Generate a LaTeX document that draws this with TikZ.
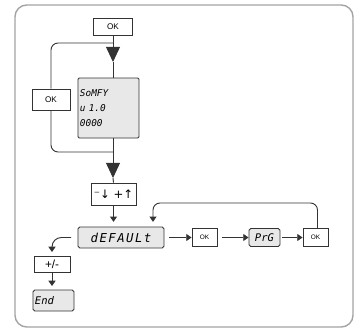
\documentclass[tikz,border=0pt]{standalone}
\usepackage{fontspec}
\setmainfont{Liberation Sans}
\newfontfamily\lcd{DejaVu Sans Mono}
\newfontfamily\symfont{DejaVu Sans}
\usepackage{xcolor}
\usetikzlibrary{arrows.meta}

\definecolor{linec}{HTML}{333333}
\definecolor{framec}{HTML}{A3A3A3}
\definecolor{lcdgray}{HTML}{E8E8E8}

\tikzset{
  okbox/.style={draw=linec, fill=white, inner sep=0pt, font=\fontsize{7}{8}\selectfont},
  lcdbox/.style={draw=linec, fill=lcdgray, inner sep=0pt, rounded corners=1.5pt, font=\lcd\itshape},
  bigtip/.style={-{Triangle[width=12pt,length=13pt]}}
}

\begin{document}
\begin{tikzpicture}[
    x=0.03cm, y=-0.03cm,
    line width=0.8pt, draw=linec,
    >={Triangle[width=6pt,length=4.5pt]}
]
\useasboundingbox (0,0) rectangle (358,328);

% --- RAHMEN ---
\draw[framec, line width=1.2pt, rounded corners=10pt] (15,5) rectangle (353,327);

% --- BOXEN ---
\node[okbox, minimum width=1.17cm, minimum height=0.51cm] (okA) at (113,26.5) {OK};
\node[okbox, minimum width=1.14cm, minimum height=0.63cm] (okB) at (51,99.5) {OK};
\node[lcdbox, rounded corners=1pt, minimum width=1.83cm, minimum height=1.8cm,
      text width=1.71cm, inner xsep=0.06cm, align=left,
      font=\lcd\itshape\fontsize{8}{12.8}\selectfont] (scr) at (108.5,108) {SoMFY\\u 1.0\\0000};
\node[okbox, minimum width=1.35cm, minimum height=0.66cm, font=\symfont\fontsize{10}{11}\selectfont] (keys) at (113.5,194) {⁻↓ +↑};
\node[lcdbox, minimum width=2.58cm, minimum height=0.63cm,
      font=\lcd\itshape\addfontfeatures{LetterSpace=12}\fontsize{10.5}{12}\selectfont] (dflt) at (121,237.5) {dEFAULt};
\node[okbox, minimum width=0.75cm, minimum height=0.54cm, font=\fontsize{5.5}{6}\selectfont] (okC) at (204.5,237.5) {OK};
\node[lcdbox, minimum width=0.93cm, minimum height=0.54cm, font=\lcd\itshape\fontsize{9}{10}\selectfont] (prg) at (264.5,237.5) {PrG};
\node[okbox, minimum width=0.75cm, minimum height=0.54cm, font=\fontsize{5.5}{6}\selectfont] (okD) at (315.5,237.5) {OK};
\node[okbox, minimum width=1.08cm, minimum height=0.48cm, font=\fontsize{10}{11}\selectfont] (pm) at (52,264) {+/-};
\node[lcdbox, minimum width=1.23cm, minimum height=0.63cm, text width=1.11cm, inner xsep=0.06cm,
      align=left, font=\lcd\itshape\fontsize{9}{10}\selectfont] (endb) at (53.5,300.5) {End};

% --- HAUPTLINIE ---
\coordinate (j1) at (113,43);
\coordinate (t1) at (113,62);
\coordinate (j2) at (113,152);
\coordinate (t2) at (113,178);
\draw[bigtip] (okA.south) -- (t1);
\draw (t1) -- (t1 |- scr.north);
\draw[bigtip] (t1 |- scr.south) -- (t2);
\draw (t2) -- (keys.north);

% --- SCHLEIFE LINKS ---
\draw[rounded corners=6pt] (j1) -| (okB.north);
\draw[rounded corners=6pt] (okB.south) |- (j2);

% --- UNTERE KETTE ---
\draw[->, shorten >=4pt] (keys.south) -- (keys.south |- dflt.north);
\draw[->, shorten <=4pt] (dflt) -- (okC);
\draw[->, shorten <=4pt] (okC) -- (prg);
\draw[->, shorten <=1.5pt] (prg) -- (okD);

% Ruecksprung
\coordinate (r1) at (153,203);
\draw[->, rounded corners=6pt, shorten >=4pt] ([xshift=0.06cm]okD.north) |- (r1) -- (r1 |- dflt.north);

% Ausgang links
\coordinate (l1) at (71,237.5);
\draw[->, rounded corners=8pt, shorten >=3pt] (l1) -| (pm.north);
\draw[->, shorten >=3pt] (pm.south) -- (pm.south |- endb.north);

\end{tikzpicture}
\end{document}
